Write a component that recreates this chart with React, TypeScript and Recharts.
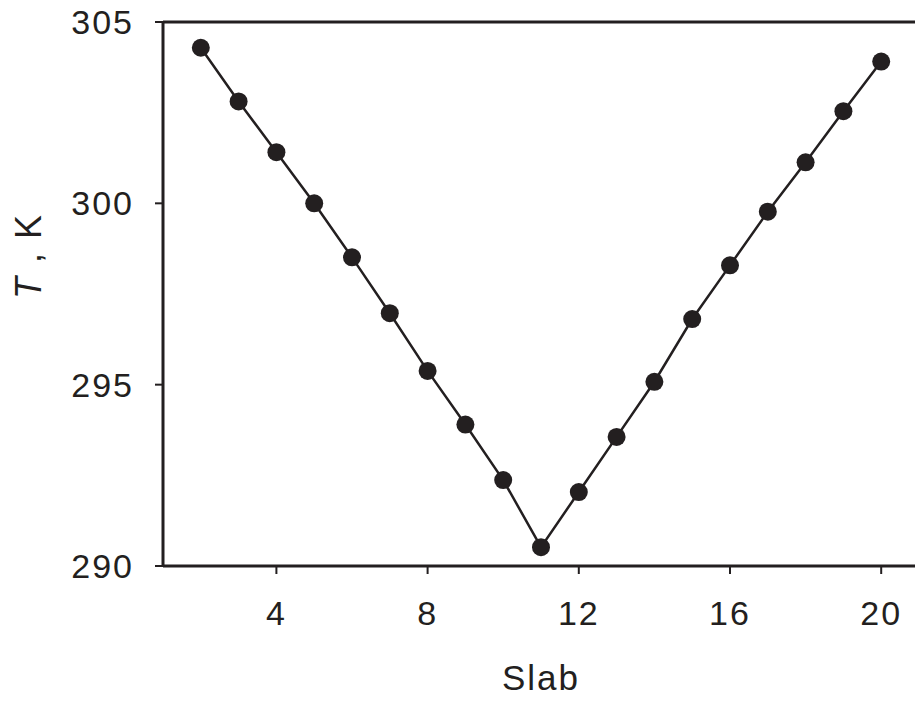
import React from "react";
import { LineChart, Line, XAxis, YAxis, ReferenceLine, Label } from "recharts";

const slabs = [2, 3, 4, 5, 6, 7, 8, 9, 10, 11, 12, 13, 14, 15, 16, 17, 18, 19, 20];
const temps = [304.29, 302.81, 301.41, 300.0, 298.51, 296.97, 295.38, 293.9, 292.37, 290.52, 292.04, 293.56, 295.08, 296.81, 298.29, 299.77, 301.13, 302.54, 303.91];
const xTicks = [4, 8, 12, 16, 20];
const yTicks = [290, 295, 300, 305];

const data = slabs.map((s, i) => ({ slab: s, T: temps[i] }));

const INK = "#231f20";
const FONT = "'Liberation Sans', Arial, sans-serif";

const YLabel = (props: any) => {
  const cx = 28;
  const cy = 256;
  return (
    <text
      x={cx}
      y={cy}
      transform={`rotate(-90, ${cx}, ${cy})`}
      textAnchor="middle"
      dominantBaseline="central"
      fontFamily={FONT}
      fontSize={36}
      fill={INK}
      letterSpacing={2}
    >
      <tspan fontStyle="italic">T</tspan>
      <tspan> , K</tspan>
    </text>
  );
};

export default function App() {
  return (
    <div style={{ position: "absolute", left: 0, top: 0, width: 915, height: 702, overflow: "hidden", background: "#fff" }}>
      <LineChart
        width={930}
        height={702}
        data={data}
        margin={{ top: 22, right: 11, left: 0, bottom: 0 }}
      >
        <XAxis
          dataKey="slab"
          type="number"
          domain={[1, 21]}
          ticks={xTicks}
          allowDataOverflow
          axisLine={{ stroke: INK, strokeWidth: 3 }}
          tickLine={{ stroke: INK, strokeWidth: 2 }}
          tickSize={8}
          tickMargin={27}
          height={136}
          tick={{ fill: INK, fontSize: 34, fontFamily: FONT, letterSpacing: 2 }}
        >
          <Label
            value="Slab"
            position="insideBottom"
            offset={12}
            style={{ fill: INK, fontSize: 35, fontFamily: FONT, letterSpacing: 2 }}
          />
        </XAxis>
        <YAxis
          type="number"
          domain={[290, 305]}
          ticks={yTicks}
          allowDataOverflow
          width={163}
          axisLine={{ stroke: INK, strokeWidth: 3 }}
          tickLine={{ stroke: INK, strokeWidth: 2 }}
          tickSize={8}
          tickMargin={21}
          tick={{ fill: INK, fontSize: 34, fontFamily: FONT, letterSpacing: 2 }}
          label={<YLabel />}
        />
        <ReferenceLine y={305} stroke={INK} strokeWidth={3} />
        <Line
          dataKey="T"
          stroke={INK}
          strokeWidth={2.5}
          isAnimationActive={false}
          dot={{ r: 9, fill: INK, stroke: "none" }}
          activeDot={false}
        />
      </LineChart>
    </div>
  );
}
